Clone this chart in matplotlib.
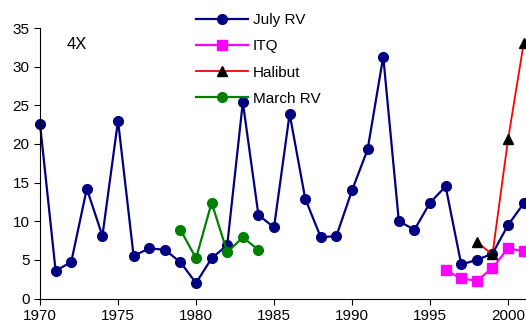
import numpy as np
import matplotlib
matplotlib.use("Agg")
import matplotlib.pyplot as plt

plt.rcParams['font.family'] = ['Liberation Sans', 'DejaVu Sans']

# données
july_years = list(range(1970, 2002))
july_rv = [22.6, 3.6, 4.7, 14.2, 8.1, 23.0, 5.5, 6.5, 6.3, 4.7,
           2.0, 5.2, 6.9, 25.4, 10.8, 9.2, 23.9, 12.9, 7.9, 8.1,
           14.0, 19.3, 31.3, 10.0, 8.9, 12.4, 14.5, 4.4, 5.0, 5.8,
           9.5, 12.3]

itq_years = [1996, 1997, 1998, 1999, 2000, 2001]
itq = [3.65, 2.6, 2.3, 3.95, 6.5, 6.1]

halibut_years = [1998, 1999, 2000, 2001]
halibut = [7.3, 5.7, 20.6, 33.0]

march_years = [1979, 1980, 1981, 1982, 1983, 1984]
march_rv = [8.9, 5.2, 12.4, 6.0, 7.9, 6.3]

fig = plt.figure(figsize=(5.26, 3.31), dpi=100)
ax = fig.add_axes([40 / 526, 1 - 298.5 / 331, 1 - 40 / 526, (298.5 - 28) / 331])

ax.plot(july_years, july_rv, color='#000080', lw=1.6, marker='o', ms=7,
        label='July RV', clip_on=False)
ax.plot(itq_years, itq, color='#FF00FF', lw=1.6, marker='s', ms=7,
        label='ITQ', clip_on=False)
ax.plot(halibut_years, halibut, color='#FF0000', lw=1.3, marker='^', ms=7,
        mfc='black', mec='black', label='Halibut', clip_on=False)
ax.plot(march_years, march_rv, color='#008000', lw=1.6, marker='o', ms=7,
        label='March RV', clip_on=False)

ax.set_xlim(1970, 2001.15)
ax.set_ylim(0, 35)
ax.set_xticks(range(1970, 2001, 5))
ax.set_yticks(range(0, 36, 5))

for s in ['top', 'right']:
    ax.spines[s].set_visible(False)
ax.tick_params(direction='out', length=4, labelsize=11, colors='black')
ax.text(1971.7, 32.3, '4X', fontsize=12)

ax.legend(loc='upper left', bbox_to_anchor=(190 / 526, 1 - 7 / 331),
          bbox_transform=fig.transFigure, frameon=False, fontsize=11,
          handlelength=3.4, labelspacing=0.8, handletextpad=0.3,
          borderaxespad=0)

fig.savefig('out.png', dpi=100)
